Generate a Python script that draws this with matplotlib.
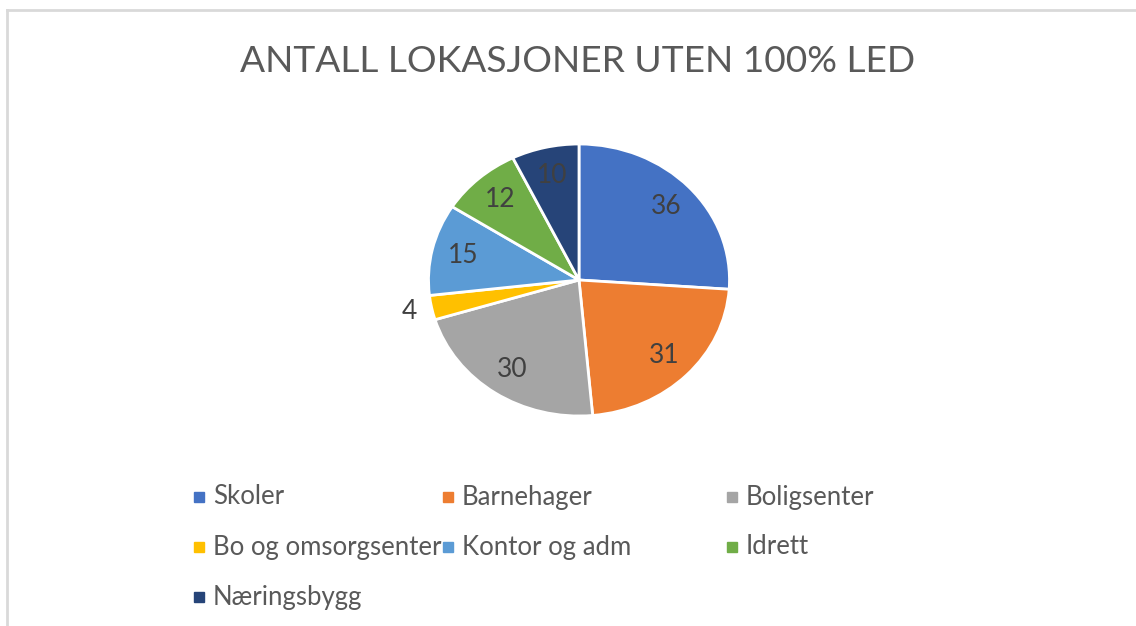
import matplotlib
matplotlib.use("Agg")
import matplotlib.pyplot as plt
from matplotlib.patches import Rectangle
from matplotlib.lines import Line2D
import numpy as np

categories = ["Skoler", "Barnehager", "Boligsenter", "Bo og omsorgsenter",
              "Kontor og adm", "Idrett", "Næringsbygg"]
values = [36, 31, 30, 4, 15, 12, 10]
colors = ["#4472C4", "#ED7D31", "#A5A5A5", "#FFC000", "#5B9BD5", "#70AD47", "#264478"]
title = "ANTALL LOKASJONER UTEN 100% LED"

plt.rcParams["font.family"] = ["Lato", "DejaVu Sans"]

W, H = 1136, 626
fig = plt.figure(figsize=(W / 100, H / 100), dpi=100)

# pie is a bit wider than tall in the original, so use a non-square axes
cx, cy, rx, ry = 579, 280, 150.5, 136
ax = fig.add_axes([(cx - rx) / W, (H - cy - ry) / H, 2 * rx / W, 2 * ry / H])
wedges, texts = ax.pie(values, colors=colors, startangle=90, counterclock=False,
                       labels=[str(v) for v in values], labeldistance=0.79,
                       wedgeprops=dict(edgecolor="white", linewidth=2),
                       textprops=dict(color="#404040", fontsize=19))
for t in texts:
    t.set_ha("center")
    t.set_va("center")
# the small slice gets its label outside
w = wedges[3]
ang = np.deg2rad((w.theta1 + w.theta2) / 2)
texts[3].set_position((1.15 * np.cos(ang), 1.15 * np.sin(ang)))
ax.set_aspect("auto")
ax.set_xlim(-1, 1)
ax.set_ylim(-1, 1)
ax.axis("off")

fig.text(578 / W, 1 - 61 / H, title, ha="center", va="center",
         fontsize=26.7, color="#595959")

# legend laid out like the Excel one, row by row
col_x = [199, 448, 732]
row_y = [497, 547, 597]
for i, (name, c) in enumerate(zip(categories, colors)):
    r, k = divmod(i, 3)
    x, y = col_x[k], row_y[r]
    fig.patches.append(Rectangle(((x - 5) / W, 1 - (y + 5) / H), 10 / W, 10 / H,
                                 transform=fig.transFigure, color=c))
    fig.text((x + 14) / W, 1 - y / H, name, ha="left", va="center",
             fontsize=18.5, color="#595959")

# light frame on top and left edges
fig.add_artist(Line2D([7 / W, 1], [1 - 10 / H, 1 - 10 / H], color="#D9D9D9",
                      lw=2, transform=fig.transFigure))
fig.add_artist(Line2D([7 / W, 7 / W], [0, 1 - 10 / H], color="#D9D9D9",
                      lw=2, transform=fig.transFigure))

fig.savefig("out.png", dpi=100, facecolor="white")
